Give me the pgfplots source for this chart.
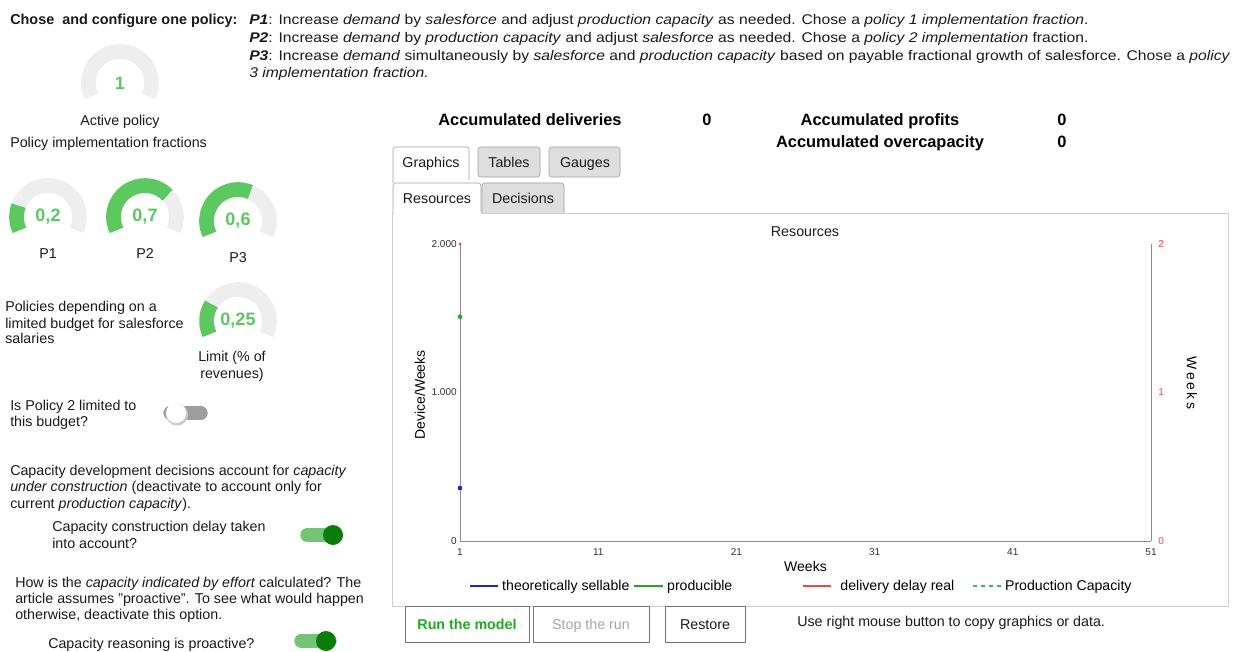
\documentclass[border=0pt]{standalone}
\usepackage{pgfplots}
\pgfplotsset{compat=1.18}
\usepackage{fontspec}
\setmainfont{Liberation Sans}
\newfontfamily\widefont{Liberation Sans}[FakeStretch=1.12]
\definecolor{gg}{HTML}{5CC860}
\definecolor{gbg}{HTML}{EEEEEE}
\definecolor{dg}{HTML}{0A7D0A}
\definecolor{lgtrack}{HTML}{74C476}
\definecolor{axgray}{HTML}{8C8C8C}
\definecolor{tabgray}{HTML}{DEDEDE}
\definecolor{bordergray}{HTML}{A0A0A0}
\definecolor{panelgray}{HTML}{CFCFCF}
\definecolor{serblue}{HTML}{1F1FD6}
\definecolor{sergreen}{HTML}{22A822}
\definecolor{serred}{HTML}{E8474C}
\definecolor{serdash}{HTML}{3CB37A}
\definecolor{txt}{HTML}{1A1A1A}
\newcommand\T{\fontsize{10.7}{12.6}\selectfont}
\newcommand\TB{\fontsize{12.3}{14}\selectfont\bfseries}
\newcommand\tl[3]{\node[anchor=base west,inner sep=0pt,font=\T,text=txt] at (#1,#2) {#3};}
\newcommand\tw[3]{\node[anchor=base west,inner sep=0pt,font=\widefont\fontsize{10.5}{12.6}\selectfont,text=txt] at (#1,#2) {#3};}
\newcommand\tc[3]{\node[anchor=base,inner sep=0pt,font=\T,text=txt] at (#1,#2) {#3};}
\newcommand\gauge[4]{%
  \draw[line width=11pt,gbg] (#1,#2) ++(205:23.6pt) arc[start angle=205,end angle=-25,radius=23.6pt];
  \ifdim #3pt>0pt
  \draw[line width=11pt,gg] (#1,#2) ++(205:23.6pt) arc[start angle=205,end angle={205-230*#3},radius=23.6pt];
  \fi
  \node[font=\fontsize{13.5}{14}\selectfont\bfseries,text=gg,inner sep=0pt] at (#1,#2) {#4};}
\newcommand\toggleon[4]{% x1 x2 y knobx
  \draw[line width=10pt,line cap=round,lgtrack] (#1,#3) -- (#2,#3);
  \fill[dg] (#4,#3) circle[radius=7.5pt];}
\begin{document}
\begin{tikzpicture}
\useasboundingbox (0,0) rectangle (931.5pt,-489pt);
\fill[white] (0,0) rectangle (931.5pt,-489pt);
\begin{scope}[x=0.75pt,y=-0.75pt]
% ---- top texts
\node[anchor=base west,inner sep=0pt,font=\fontsize{10.8}{12.6}\selectfont\bfseries,text=txt] at (10,25) {Chose\ \ and configure one policy:};
\tw{249}{25}{\textbf{\textit{P1}}: Increase \textit{demand} by \textit{salesforce} and adjust \textit{production capacity} as needed. Chose a \textit{policy 1 implementation fraction}.}
\tw{249}{43}{\textbf{\textit{P2}}: Increase \textit{demand} by \textit{production capacity} and adjust \textit{salesforce} as needed. Chose a \textit{policy 2 implementation} fraction.}
\tw{249}{61}{\textbf{\textit{P3}}: Increase \textit{demand} simultaneously by \textit{salesforce} and \textit{production capacity} based on payable fractional growth of salesforce. Chose a \textit{policy}}
\tw{249}{78}{\textit{3 implementation fraction.}}
% ---- gauges
\gauge{120}{83}{0}{1}
\tc{120}{126}{Active policy}
\tl{10}{148}{Policy implementation fractions}
\gauge{48}{217}{0.2}{0,2}
\gauge{145}{217}{0.7}{0,7}
\gauge{238}{221}{0.6}{0,6}
\tc{48}{259}{P1}
\tc{145}{259}{P2}
\tc{238}{263}{P3}
\tl{5}{311}{Policies depending on a}
\tl{5}{328}{limited budget for salesforce}
\tl{5}{344}{salaries}
\gauge{238}{321}{0.25}{0,25}
\tc{232}{361}{Limit (\% of}
\tc{232}{378}{revenues)}
% ---- toggles
\tl{10}{410}{Is Policy 2 limited to}
\tl{10}{426}{this budget?}
\draw[line width=10pt,line cap=round,black!38] (170,413) -- (201,413);
\fill[black!20] (177,414.5) circle[radius=8.3pt];
\fill[white] (176,413) circle[radius=7.5pt];
\tl{10}{475}{Capacity development decisions account for \textit{capacity}}
\tl{10}{491}{\textit{under construction} (deactivate to account only for}
\tl{10}{508}{current \textit{production capacity}).}
\tl{52}{531}{Capacity construction delay taken}
\tl{52}{548}{into account?}
\toggleon{307}{336}{535}{333}
\tl{15}{587}{How is the \textit{capacity indicated by effort} calculated? The}
\tl{15}{603}{article assumes "proactive". To see what would happen}
\tl{15}{619}{otherwise, deactivate this option.}
\tl{48}{648}{Capacity reasoning is proactive?}
\toggleon{301}{330}{641}{326}
% ---- header
\node[anchor=base,inner sep=0pt,font=\TB] at (530,126) {Accumulated deliveries};
\node[anchor=base,inner sep=0pt,font=\TB] at (707,126) {0};
\node[anchor=base,inner sep=0pt,font=\TB] at (880,126) {Accumulated profits};
\node[anchor=base,inner sep=0pt,font=\TB] at (1062,126) {0};
\node[anchor=base,inner sep=0pt,font=\TB] at (880,148) {Accumulated overcapacity};
\node[anchor=base,inner sep=0pt,font=\TB] at (1062,148) {0};
% ---- tabs
\draw[panelgray,fill=white] (392,213) rectangle (1228,606);
\draw[bordergray,fill=white,rounded corners=2pt] (393,183) -- (393,147) -- (469,147) -- (469,180);
\draw[bordergray,fill=tabgray,rounded corners=2pt] (478,177) -- (478,147) -- (540,147) -- (540,177) -- cycle;
\draw[bordergray,fill=tabgray,rounded corners=2pt] (549,177) -- (549,147) -- (620,147) -- (620,177) -- cycle;
\tc{431}{168}{Graphics}
\tc{509}{168}{Tables}
\tc{585}{168}{Gauges}
\draw[bordergray,fill=white,rounded corners=2pt] (393,214) -- (393,183) -- (481,183) -- (481,213);
\fill[white] (393.5,212) rectangle (480.5,215);
\draw[bordergray,fill=tabgray,rounded corners=2pt] (482,213) -- (482,183) -- (564,183) -- (564,213);
\tc{437}{204}{Resources}
\tc{523}{204}{Decisions}
% ---- chart title
\tc{805}{237}{Resources}
% ---- buttons
\draw[black!55,fill=white] (405,606) rectangle (529,642);
\node[anchor=base,inner sep=0pt,font=\T\bfseries,text=sergreen] at (467,629) {Run the model};
\draw[black!55,fill=white] (533,606) rectangle (649,642);
\node[anchor=base,inner sep=0pt,font=\T,text=black!35] at (591,629) {Stop the run};
\draw[black!55,fill=white] (665,606) rectangle (745,642);
\tc{705}{629}{Restore}
\tl{797}{626}{Use right mouse button to copy graphics or data.}
\end{scope}
% ---- chart
\begin{axis}[
  at={(345pt,-405.75pt)}, anchor=south west, scale only axis,
  width=518.25pt, height=222.75pt,
  xmin=1, xmax=51, ymin=0, ymax=2000, clip=false,
  axis x line=bottom, axis y line=left,
  axis line style={axgray,-},
  xtick={1,11,21,31,41,51}, ytick={0,1000,2000},
  major tick length=0pt,
  tick label style={font=\fontsize{7.5}{8}\selectfont, text=black!80},
  xticklabel style={yshift=-2pt},
  yticklabel style={xshift=1pt},
  /pgf/number format/.cd, 1000 sep={.}, assume math mode=true, /pgfplots/.cd,
  xlabel={Weeks},
  xlabel style={font=\fontsize{10.5}{12}\selectfont, at={(axis description cs:0.5,0)}, anchor=base, yshift=-22.5pt},
  ylabel={Device/Weeks},
  ylabel style={font=\fontsize{10.5}{12}\selectfont, at={(axis description cs:-0.058,0.492)}, anchor=center},
  legend columns=4,
  legend image code/.code={\draw[#1] (0pt,0pt) -- (21.5pt,0pt);},
  legend style={at={(axis description cs:0.0115,-0.1515)}, anchor=west, draw=none, fill=none,
    font=\fontsize{10.6}{12}\selectfont, inner sep=0pt,
    /tikz/column 2/.style={column sep=0.75pt},
    /tikz/column 4/.style={column sep=50.25pt},
    /tikz/column 5/.style={column sep=4.5pt},
    /tikz/column 6/.style={column sep=11.75pt}},
]
\addplot[only marks, mark=*, mark size=1.5pt, serblue, forget plot] coordinates {(1,357)};
\addplot[only marks, mark=*, mark size=1.5pt, sergreen, forget plot] coordinates {(1,1510)};
\addlegendimage{serblue, line width=2pt}
\addlegendentry{theoretically sellable}
\addlegendimage{sergreen, line width=2pt}
\addlegendentry{producible}
\addlegendimage{serred, line width=0.8pt}
\addlegendentry{delivery delay real}
\addlegendimage{serdash, line width=0.8pt, dash pattern=on 3pt off 3pt}
\addlegendentry{Production Capacity}
\end{axis}
\begin{axis}[
  at={(345pt,-405.75pt)}, anchor=south west, scale only axis,
  width=518.25pt, height=222.75pt,
  xmin=1, xmax=51, ymin=0, ymax=2, clip=false,
  axis y line*=right, axis x line=none,
  axis line style={axgray,-},
  ytick={0,1,2}, major tick length=0pt,
  yticklabel style={font=\fontsize{7.5}{8}\selectfont, text=serred, xshift=2pt},
  /pgf/number format/.cd, assume math mode=true, /pgfplots/.cd,
  ylabel={W\,e\,e\,k\,s},
  ylabel style={font=\fontsize{10.5}{12}\selectfont, at={(axis description cs:1.0593,0.532)}, anchor=center, rotate=180},
]
\addplot[only marks, mark=*, mark size=0.9pt, serred] coordinates {(1,2)};
\end{axis}
\end{tikzpicture}
\end{document}
